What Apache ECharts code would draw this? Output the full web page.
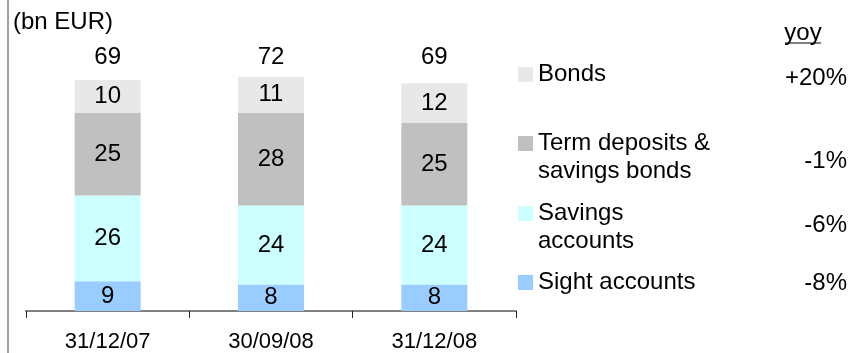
<!DOCTYPE html>
<html>
<head>
<meta charset="utf-8">
<script src="https://cdn.jsdelivr.net/npm/echarts@6/dist/echarts.min.js"></script>
<style>
  html, body { margin: 0; padding: 0; background: #ffffff; }
  #chart { width: 851px; height: 353px; }
</style>
</head>
<body>
<div id="chart"></div>
<script>
// Retail deposits by type, bn EUR
const dates = ['31/12/07', '30/09/08', '31/12/08'];
const sight = [9, 8, 8];
const savings = [26, 24, 24];
const termDeposits = [25, 28, 25];
const bonds = [10, 11, 12];
const totals = [69, 72, 69];

const seriesNames = ['Sight accounts', 'Savings accounts', 'Term deposits & savings bonds', 'Bonds'];
const legendLines = [['Sight accounts'], ['Savings', 'accounts'], ['Term deposits &', 'savings bonds'], ['Bonds']];
const yoy = ['-8%', '-6%', '-1%', '+20%'];

const FONT = '"Liberation Sans", Arial, sans-serif';
const palette = ['#99CCFF', '#CCFFFF', '#C0C0C0', '#E8E8E8'];
const seriesData = [sight, savings, termDeposits, bonds];

// legend rows: icon centre y and yoy centre y
const legendRows = [
  { iconY: 282.5, yoyY: 283 },
  { iconY: 213.5, yoyY: 225 },
  { iconY: 143.5, yoyY: 161 },
  { iconY: 74.5, yoyY: 78 }
];

const chart = echarts.init(document.getElementById('chart'), null, { renderer: 'canvas' });

// one legend per series; two-line labels get a blank leading line so the
// first line sits level with the swatch
const legends = seriesNames.map((name, i) => {
  const lines = legendLines[i];
  const twoLine = lines.length > 1;
  const text = twoLine ? ' \n' + lines.join('\n') : lines[0];
  return {
    show: true,
    data: [name],
    left: 518,
    top: twoLine ? legendRows[i].iconY - 42 : legendRows[i].iconY - 14,
    padding: 0,
    itemWidth: 15,
    itemHeight: 15,
    icon: 'rect',
    selectedMode: false,
    formatter: () => text,
    textStyle: {
      fontFamily: FONT,
      fontSize: 24,
      color: '#000',
      lineHeight: 28
    }
  };
});

const series = seriesNames.map((name, i) => ({
  name: name,
  type: 'bar',
  stack: 'total',
  barWidth: 66,
  data: seriesData[i],
  itemStyle: { color: palette[i] },
  label: {
    show: true,
    position: 'inside',
    color: '#000',
    fontFamily: FONT,
    fontSize: 24
  }
}));

chart.setOption({
  animation: false,
  color: palette,
  grid: { left: 26, right: 335, top: 12, bottom: 42, containLabel: false },
  legend: legends,
  xAxis: {
    type: 'category',
    data: dates,
    axisLine: { lineStyle: { color: '#808080', width: 2 } },
    axisTick: { show: true, length: 7, lineStyle: { color: '#202020', width: 1 } },
    axisLabel: { color: '#000', fontFamily: FONT, fontSize: 22, margin: 20 }
  },
  yAxis: {
    type: 'value',
    min: 0,
    max: 90.6,
    show: false,
    splitLine: { show: false }
  },
  series: series
});

// totals above each stack, yoy column, unit caption and frame line
const graphics = [
  { type: 'rect', shape: { x: 7, y: 0, width: 2, height: 353 }, style: { fill: '#A0A0A0' }, silent: true },
  { type: 'text', x: 13, y: 22, style: { text: '(bn EUR)', fontFamily: FONT, fontSize: 24, fill: '#000', verticalAlign: 'middle', align: 'left' } },
  { type: 'text', x: 803, y: 33, style: { text: 'yoy', fontFamily: FONT, fontSize: 24, fill: '#000', verticalAlign: 'middle', align: 'center' } },
  { type: 'line', shape: { x1: 785, y1: 43, x2: 821, y2: 43 }, style: { stroke: '#000', lineWidth: 1 } }
];
dates.forEach((d, i) => {
  const x = chart.convertToPixel({ xAxisIndex: 0 }, d);
  graphics.push({
    type: 'text', x: x, y: 57.5,
    style: { text: String(totals[i]), fontFamily: FONT, fontSize: 24, fill: '#000', align: 'center', verticalAlign: 'middle' }
  });
});
yoy.forEach((v, i) => {
  graphics.push({
    type: 'text', x: 847, y: legendRows[i].yoyY,
    style: { text: v, fontFamily: FONT, fontSize: 24, fill: '#000', align: 'right', verticalAlign: 'middle' }
  });
});
chart.setOption({ graphic: graphics });
</script>
</body>
</html>
